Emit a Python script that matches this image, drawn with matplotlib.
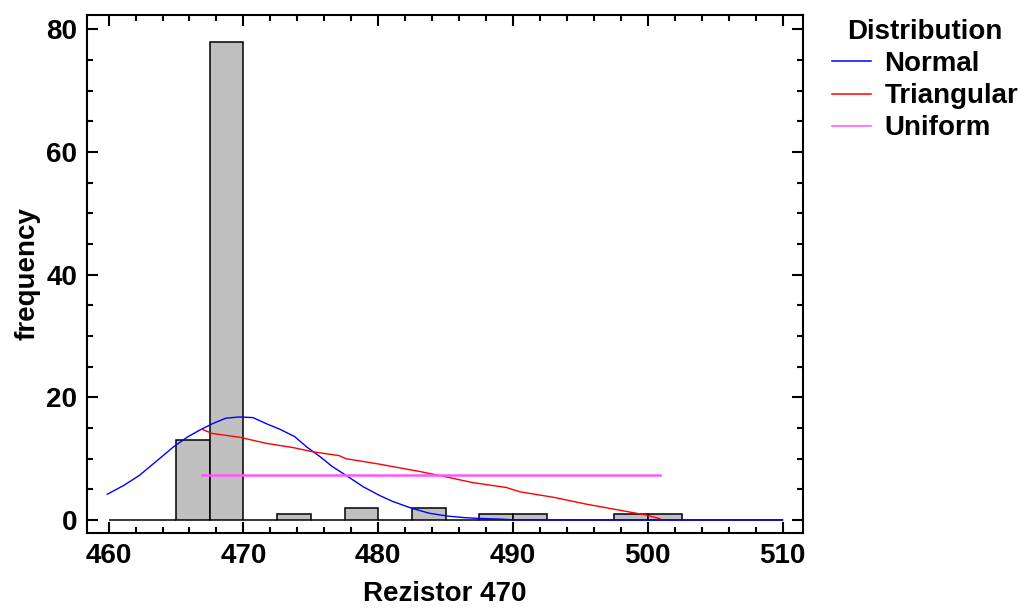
import numpy as np
import matplotlib.pyplot as plt
from matplotlib.ticker import MultipleLocator

plt.rcParams['font.family'] = ['Liberation Sans', 'DejaVu Sans']
plt.rcParams['font.weight'] = 'bold'

# histogram: bins of 2.5 from 460 to 510
bin_edges = np.arange(460, 510.01, 2.5)
counts = [0, 0, 13, 78, 0, 1, 0, 2, 0, 2, 0, 1, 1, 0, 0, 1, 1, 0, 0, 0]

# fitted curves
normal_x = [459.9, 461.1, 462.3, 463.5, 464.8, 465.9, 466.8, 467.7, 468.7, 469.7,
            470.7, 471.7, 472.7, 473.8, 474.7, 475.7, 476.6, 477.6, 478.9, 480.1,
            481.1, 482.5, 483.8, 485.1, 486.3, 487.5, 489.0, 490.0, 495.0, 500.0,
            505.0, 510.0]
normal_y = [4.2, 5.6, 7.3, 9.5, 11.9, 13.6, 14.7, 15.7, 16.6, 16.8,
            16.7, 15.7, 14.8, 13.6, 11.9, 10.3, 8.7, 7.3, 5.4, 4.0,
            3.0, 1.9, 1.1, 0.65, 0.4, 0.25, 0.15, 0.03, 0.0, 0.0,
            0.0, 0.0]

tri_x = [466.9, 467.7, 469.7, 471.7, 473.7, 475.2, 477.1, 477.6, 480.1, 483.1,
         485.1, 487.0, 489.5, 490.5, 493.0, 495.4, 497.9, 499.9, 500.9]
tri_y = [14.8, 14.1, 13.5, 12.5, 11.8, 11.1, 10.5, 10.0, 9.1, 7.9,
         7.0, 6.1, 5.3, 4.6, 3.7, 2.6, 1.6, 0.8, 0.2]

unif_x = [466.9, 500.9]
unif_y = [7.35, 7.35]

fig = plt.figure(figsize=(10.36, 6.09), dpi=100)
ax = fig.add_axes([0.084, 0.125, 0.691, 0.850])

ax.bar(bin_edges[:-1], counts, width=2.5, align='edge',
       color='#C0C0C0', edgecolor='black', linewidth=1.1, zorder=2)

ax.plot(normal_x, normal_y, color='#0000FF', lw=1, label='Normal', zorder=3)
ax.plot(tri_x, tri_y, color='#FF0000', lw=1, label='Triangular', zorder=3)
ax.plot(unif_x, unif_y, color='#FF55FF', lw=1.8, label='Uniform', zorder=3)

ax.set_xlim(458.4, 511.5)
ax.set_ylim(-2.1, 82.3)
ax.xaxis.set_major_locator(MultipleLocator(10))
ax.xaxis.set_minor_locator(MultipleLocator(2))
ax.yaxis.set_major_locator(MultipleLocator(20))
ax.yaxis.set_minor_locator(MultipleLocator(5))
ax.tick_params(which='both', direction='in', top=True, right=True,
               width=1.5, labelsize=20, pad=7)
ax.tick_params(which='major', length=8)
ax.tick_params(which='minor', length=4.5)
for lab in ax.get_xticklabels() + ax.get_yticklabels():
    lab.set_fontweight('bold')
for s in ax.spines.values():
    s.set_linewidth(1.5)

ax.set_xlabel('Rezistor 470', fontsize=20, fontweight='bold', labelpad=9)
ax.set_ylabel('frequency', fontsize=20, fontweight='bold', labelpad=4)

leg = fig.legend(loc='upper left', bbox_to_anchor=(0.792, 0.987), frameon=False,
                 title='Distribution', fontsize=20, title_fontsize=20,
                 handlelength=1.4, handletextpad=0.5, labelspacing=0.22,
                 borderaxespad=0)
leg.get_title().set_fontweight('bold')
for t in leg.get_texts():
    t.set_fontweight('bold')
# legend swatches are all thin lines in the original
for h in leg.legend_handles:
    h.set_linewidth(1.1)

fig.savefig('out.png', dpi=100)
